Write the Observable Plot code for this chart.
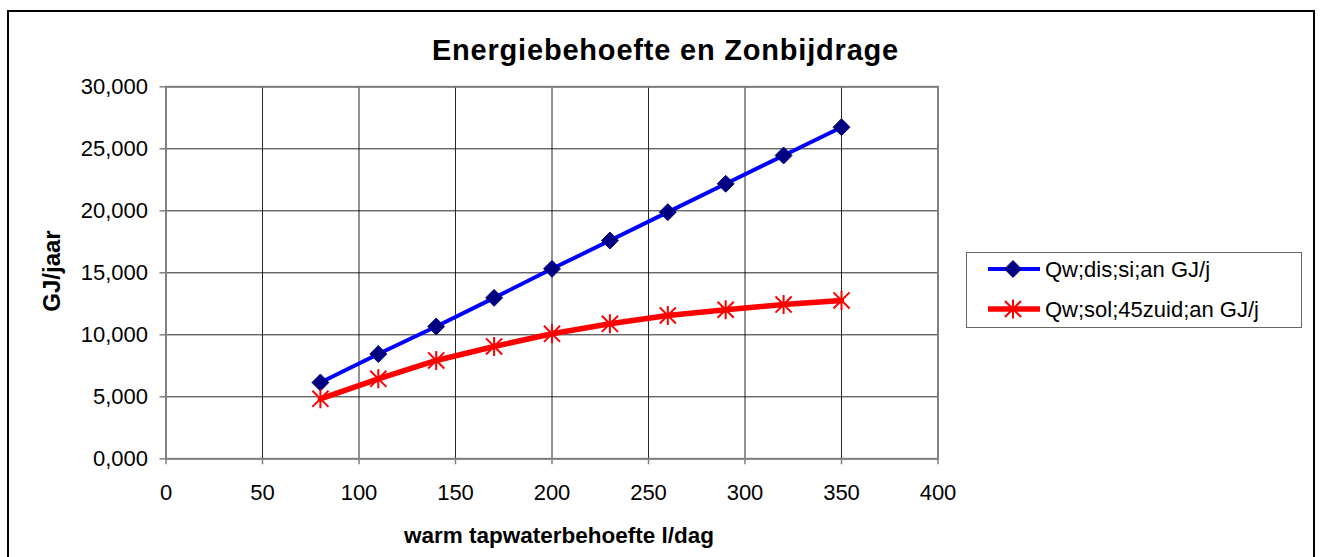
<!DOCTYPE html>
<html>
<head>
<meta charset="utf-8">
<script src="https://cdn.jsdelivr.net/npm/d3@7"></script>
<script src="https://cdn.jsdelivr.net/npm/@observablehq/plot@0.6"></script>
<style>
  html, body { margin: 0; padding: 0; background: #fff; overflow: hidden; }
  #wrap { position: relative; width: 1327px; height: 557px; overflow: hidden; font-family: "Liberation Sans", Arial, sans-serif; }
  #border { position: absolute; left: 7px; top: 10px; width: 1308px; height: 600px; border: 2px solid #000; box-sizing: border-box; pointer-events: none; }
  svg { position: absolute; left: 0; top: 0; }
</style>
</head>
<body>
<div id="wrap"><div id="border"></div></div>
<script>
// ---- data ----
const flow = [80, 110, 140, 170, 200, 230, 260, 290, 320, 350]; // warm tapwaterbehoefte l/dag
const qDis = [6.15, 8.45, 10.67, 12.98, 15.32, 17.60, 19.89, 22.18, 24.46, 26.74]; // Qw;dis;si;an GJ/j
const qSol = [4.84, 6.45, 7.93, 9.06, 10.08, 10.89, 11.56, 12.02, 12.44, 12.77]; // Qw;sol;45zuid;an GJ/j
const seriesNames = ["Qw;dis;si;an GJ/j", "Qw;sol;45zuid;an GJ/j"];
const xTicks = [0, 50, 100, 150, 200, 250, 300, 350, 400];
const yTicks = [0, 5, 10, 15, 20, 25, 30];
const titleText = "Energiebehoefte en Zonbijdrage";
const xLabel = "warm tapwaterbehoefte l/dag";
const yLabel = "GJ/jaar";

const dis = flow.map((x, i) => ({x, y: qDis[i]}));
const sol = flow.map((x, i) => ({x, y: qSol[i]}));

const fmt = v => v.toFixed(3).replace(".", ",");

// Excel-like star marker: vertical bar + X
const star = {
  draw(ctx, size) {
    const r = Math.sqrt(size / Math.PI);
    const d = r * 0.85;
    ctx.moveTo(0, -r); ctx.lineTo(0, r);
    ctx.moveTo(-d, -d); ctx.lineTo(d, d);
    ctx.moveTo(-d, d); ctx.lineTo(d, -d);
  }
};

const font = '"Liberation Sans", Arial, sans-serif';
const diamondR = 7.6;
const starR = 9.5;

const chart = Plot.plot({
  width: 1327,
  height: 557,
  marginLeft: 165.5,
  marginRight: 389.5,
  marginTop: 86.3,
  marginBottom: 98.7,
  style: {fontFamily: font, color: "#000", background: "transparent", overflow: "visible"},
  x: {domain: [0, 400]},
  y: {domain: [0, 30]},
  marks: [
    Plot.gridX(xTicks, {stroke: "#000", strokeOpacity: 0.85, strokeWidth: 1}),
    Plot.gridY(yTicks, {stroke: "#000", strokeOpacity: 0.85, strokeWidth: 1}),
    Plot.frame({stroke: "#808080", strokeWidth: 2}),
    Plot.axisX(xTicks, {tickSize: 6, tickPadding: 20, fontSize: 22, stroke: "#808080", strokeWidth: 1.5, label: null, tickFormat: d => String(d), fill: "#000"}),
    Plot.axisY(yTicks, {tickSize: 6, tickPadding: 12, fontSize: 22, stroke: "#808080", strokeWidth: 1.5, label: null, tickFormat: fmt, fill: "#000"}),
    Plot.line(dis, {x: "x", y: "y", stroke: "#0000FF", strokeWidth: 4}),
    Plot.line(sol, {x: "x", y: "y", stroke: "#FF0000", strokeWidth: 5.5}),
    Plot.dot(dis, {x: "x", y: "y", symbol: "diamond2", r: diamondR, fill: "#000080", stroke: "#000080", strokeWidth: 1}),
    Plot.dot(sol, {x: "x", y: "y", symbol: star, r: starR, fill: "none", stroke: "#FF0000", strokeWidth: 2})
  ]
});

document.getElementById("wrap").insertBefore(chart, document.getElementById("border"));

const svg = d3.select(chart);
// title
svg.append("text").attr("x", 665.5).attr("y", 60).attr("text-anchor", "middle")
  .attr("font-family", font).attr("font-weight", "bold").attr("font-size", 29).attr("fill", "#000")
  .attr("letter-spacing", 0.8).text(titleText);
// x label
svg.append("text").attr("x", 559).attr("y", 543).attr("text-anchor", "middle")
  .attr("font-family", font).attr("font-weight", "bold").attr("font-size", 22.5).attr("fill", "#000")
  .text(xLabel);
// y label
svg.append("text").attr("transform", "translate(60,271) rotate(-90)").attr("text-anchor", "middle")
  .attr("font-family", font).attr("font-weight", "bold").attr("font-size", 24).attr("fill", "#000")
  .text(yLabel);

// legend
const lg = svg.append("g");
lg.append("rect").attr("x", 966.5).attr("y", 252.5).attr("width", 335).attr("height", 75)
  .attr("fill", "#fff").attr("stroke", "#666").attr("stroke-width", 1);
const rows = [
  {name: seriesNames[0], color: "#0000FF", width: 4, cy: 269, sym: d3.symbol(d3.symbolDiamond2, Math.PI * diamondR * diamondR)(), fill: "#000080", stroke: "#000080", sw: 1},
  {name: seriesNames[1], color: "#FF0000", width: 5.5, cy: 309, sym: d3.symbol(star, Math.PI * starR * starR)(), fill: "none", stroke: "#FF0000", sw: 2}
];
for (const r of rows) {
  lg.append("line").attr("x1", 988).attr("x2", 1040).attr("y1", r.cy).attr("y2", r.cy)
    .attr("stroke", r.color).attr("stroke-width", r.width);
  lg.append("path").attr("d", r.sym).attr("transform", `translate(1013,${r.cy})`)
    .attr("fill", r.fill).attr("stroke", r.stroke).attr("stroke-width", r.sw);
  lg.append("text").attr("x", 1045).attr("y", r.cy + 8).attr("text-anchor", "start").attr("font-family", font)
    .attr("font-size", 22).attr("fill", "#000").text(r.name);
}
</script>
</body>
</html>
